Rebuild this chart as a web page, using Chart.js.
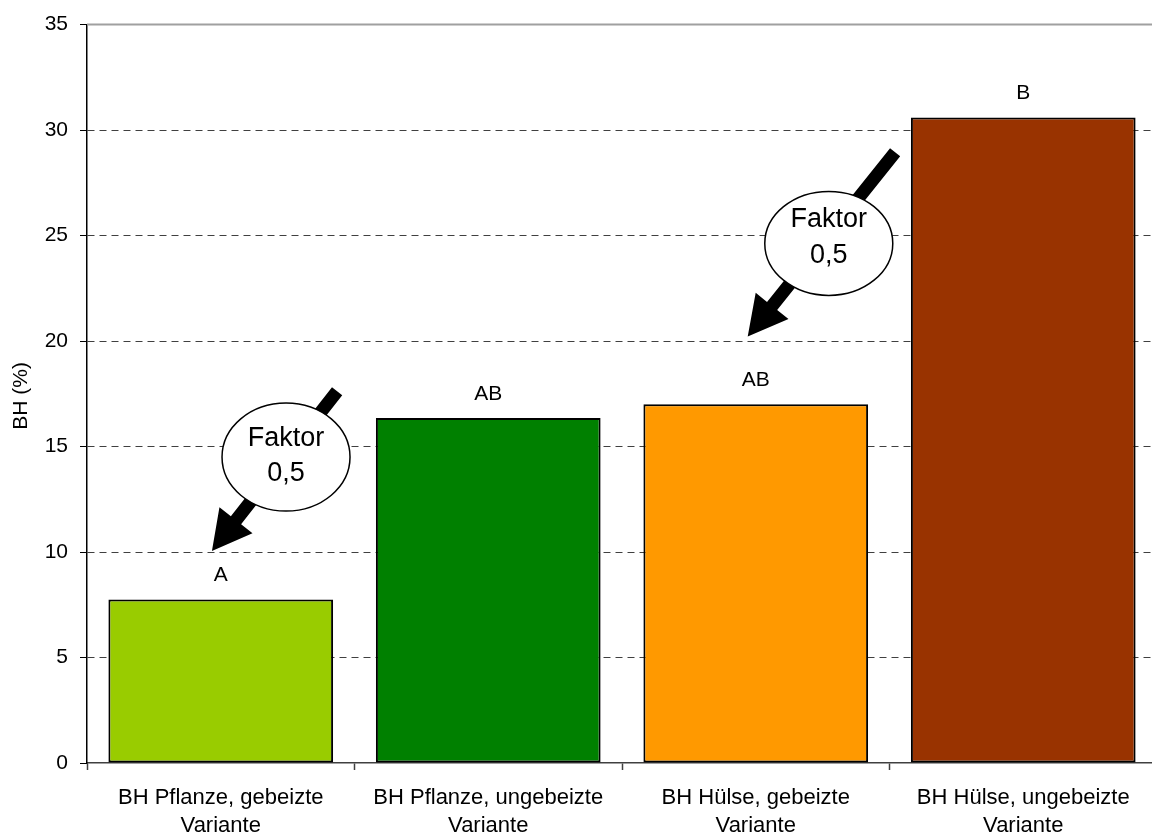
<!DOCTYPE html>
<html>
<head>
<meta charset="utf-8">
<script src="https://cdn.jsdelivr.net/npm/chart.js@4.4.1/dist/chart.umd.min.js"></script>
<style>
  html, body { margin: 0; padding: 0; background: #fff; overflow: hidden; width: 1152px; height: 835px; }
  canvas { display: block; }
</style>
</head>
<body>
<canvas id="chart" width="1160" height="835"></canvas>
<script>
// Categories (two-line axis labels)
const categories = [
  ["BH Pflanze, gebeizte", "Variante"],
  ["BH Pflanze, ungebeizte", "Variante"],
  ["BH Hülse, gebeizte", "Variante"],
  ["BH Hülse, ungebeizte", "Variante"]
];
// BH in percent
const values = [7.75, 16.35, 17.0, 30.6];
// Significance groups shown above the bars
const groupLetters = ["A", "AB", "AB", "B"];
const barColors = ["#99CC00", "#008000", "#FF9900", "#993300"];
const yTicks = [0, 5, 10, 15, 20, 25, 30, 35];
const yTitle = "BH (%)";
const calloutText = ["Faktor", "0,5"];

const FONT = "'Liberation Sans', Arial, Helvetica, sans-serif";

// Callout arrows, expressed in (category index, value) coordinates
const callouts = [
  { from: [0.435, 17.62], to: [-0.033, 10.05], center: [0.244, 14.5], rx: 64, ry: 54, textDy: [-11, 24] },
  { from: [2.521, 28.95], to: [1.970, 20.22], center: [2.273, 24.63], rx: 64, ry: 52, textDy: [-16, 20] }
];

function xAt(chart, idx) {
  const xs = chart.scales.x;
  const a = xs.getPixelForValue(0), b = xs.getPixelForValue(1);
  return a + (b - a) * idx;
}

function drawArrow(ctx, x1, y1, x2, y2) {
  const dx = x2 - x1, dy = y2 - y1;
  const len = Math.hypot(dx, dy);
  const ux = dx / len, uy = dy / len;
  const nx = -uy, ny = ux;
  const shaftW = 13, headLen = 39, headW = 21;
  const bx = x2 - ux * headLen, by = y2 - uy * headLen;
  ctx.beginPath();
  ctx.moveTo(x1 + nx * shaftW / 2, y1 + ny * shaftW / 2);
  ctx.lineTo(bx + nx * shaftW / 2, by + ny * shaftW / 2);
  ctx.lineTo(bx + nx * headW, by + ny * headW);
  ctx.lineTo(x2, y2);
  ctx.lineTo(bx - nx * headW, by - ny * headW);
  ctx.lineTo(bx - nx * shaftW / 2, by - ny * shaftW / 2);
  ctx.lineTo(x1 - nx * shaftW / 2, y1 - ny * shaftW / 2);
  ctx.closePath();
  ctx.fillStyle = "#000";
  ctx.fill();
}

const decorations = {
  id: "decorations",
  beforeDatasetsDraw(chart) {
    const { ctx, chartArea } = chart;
    // solid gray frame line along the top of the plot
    ctx.save();
    ctx.strokeStyle = "#a0a0a0";
    ctx.lineWidth = 2;
    ctx.beginPath();
    ctx.moveTo(chartArea.left, chartArea.top);
    ctx.lineTo(chartArea.right, chartArea.top);
    ctx.stroke();
    ctx.restore();
  },
  afterDatasetsDraw(chart) {
    const { ctx } = chart;
    const ys = chart.scales.y;
    ctx.save();
    // group letters above bars
    const meta = chart.getDatasetMeta(0);
    ctx.fillStyle = "#000";
    ctx.font = "21px " + FONT;
    ctx.textAlign = "center";
    ctx.textBaseline = "alphabetic";
    meta.data.forEach((bar, i) => {
      ctx.fillText(groupLetters[i], bar.x, bar.y - 18);
    });
    // callouts
    callouts.forEach(c => {
      const x1 = xAt(chart, c.from[0]), y1 = ys.getPixelForValue(c.from[1]);
      const x2 = xAt(chart, c.to[0]), y2 = ys.getPixelForValue(c.to[1]);
      drawArrow(ctx, x1, y1, x2, y2);
      const cx = xAt(chart, c.center[0]), cy = ys.getPixelForValue(c.center[1]);
      ctx.beginPath();
      ctx.ellipse(cx, cy, c.rx, c.ry, 0, 0, Math.PI * 2);
      ctx.fillStyle = "#fff";
      ctx.fill();
      ctx.lineWidth = 1.5;
      ctx.strokeStyle = "#000";
      ctx.stroke();
      ctx.fillStyle = "#000";
      ctx.font = "27px " + FONT;
      ctx.textAlign = "center";
      ctx.textBaseline = "alphabetic";
      ctx.fillText(calloutText[0], cx, cy + c.textDy[0]);
      ctx.fillText(calloutText[1], cx, cy + c.textDy[1]);
    });
    ctx.restore();
  },
  afterDraw(chart) {
    const { ctx, chartArea } = chart;
    // rotated y-axis title
    ctx.save();
    ctx.translate(21, (chartArea.top + chartArea.bottom) / 2 + 2);
    ctx.rotate(-Math.PI / 2);
    ctx.fillStyle = "#000";
    ctx.font = "21px " + FONT;
    ctx.textAlign = "center";
    ctx.textBaseline = "middle";
    ctx.fillText(yTitle, 0, 0);
    ctx.restore();
  }
};

new Chart(document.getElementById("chart"), {
  type: "bar",
  data: {
    labels: categories,
    datasets: [{
      data: values,
      backgroundColor: barColors,
      borderColor: "#000",
      borderWidth: 2,
      borderSkipped: false,
      barPercentage: 0.84,
      categoryPercentage: 1.0
    }]
  },
  options: {
    responsive: false,
    animation: false,
    events: [],
    layout: { padding: { top: 22, right: 3, left: 0, bottom: 0 } },
    plugins: { legend: { display: false }, tooltip: { enabled: false }, title: { display: false } },
    scales: {
      x: {
        grid: {
          offset: true,
          drawOnChartArea: false,
          drawTicks: true,
          tickLength: 7,
          tickColor: "#404040",
          tickWidth: 1.5
        },
        border: { display: true, color: "#404040", width: 1.5 },
        ticks: {
          color: "#000",
          padding: 14,
          maxRotation: 0,
          autoSkip: false,
          font: { family: FONT, size: 22, lineHeight: 1.27 }
        },
        afterFit(scale) { scale.height = 72; }
      },
      y: {
        min: 0,
        max: 35,
        afterBuildTicks(scale) { scale.ticks = yTicks.map(v => ({ value: v })); },
        grid: {
          color: ctx => (ctx.tick && (ctx.tick.value === 0 || ctx.tick.value === 35)) ? "rgba(0,0,0,0)" : "#404040",
          lineWidth: 1,
          drawTicks: true,
          tickLength: 7,
          tickColor: "#000",
          tickWidth: 1,
          tickBorderDash: []
        },
        border: { display: true, color: "#000", width: 1.5, dash: [7, 5] },
        ticks: {
          color: "#000",
          padding: 12,
          font: { family: FONT, size: 21 }
        },
        afterFit(scale) { scale.width = 87; }
      }
    }
  },
  plugins: [decorations]
});
</script>
</body>
</html>
